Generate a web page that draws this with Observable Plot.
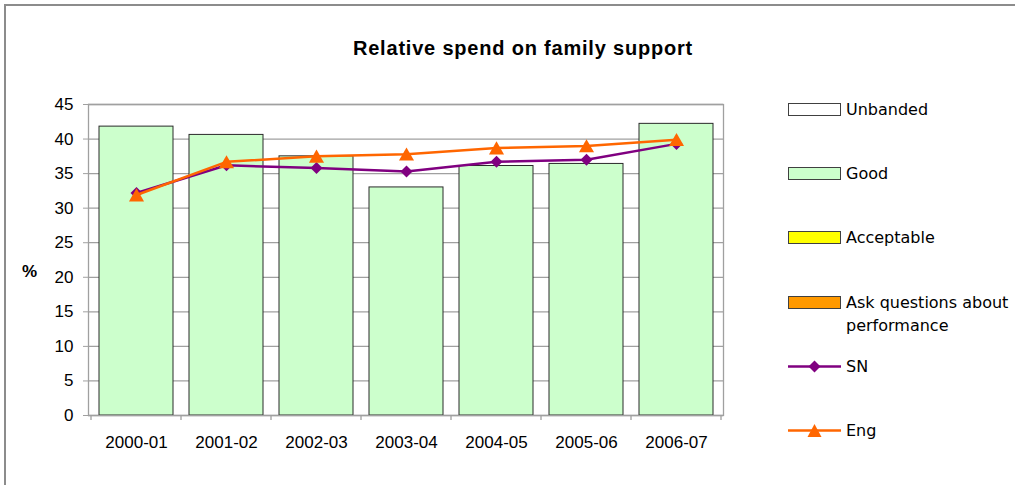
<!DOCTYPE html>
<html><head><meta charset="utf-8">
<script src="https://cdn.jsdelivr.net/npm/d3@7"></script>
<script src="https://cdn.jsdelivr.net/npm/@observablehq/plot@0.6"></script>
<style>
body{margin:0;background:#fff;}
#wrap{position:relative;width:1015px;height:485px;overflow:hidden;font-family:"Liberation Sans",Arial,sans-serif;background:#fff;}
#frame{position:absolute;left:4px;top:4px;width:1100px;height:600px;border:2px solid #8c8c8c;box-sizing:border-box;}
#chart{position:absolute;left:0;top:0;}
#title{position:absolute;left:223px;width:600px;top:36px;text-align:center;font-weight:bold;font-size:20px;letter-spacing:0.8px;line-height:24px;color:#000;}
#ylab{position:absolute;left:22px;top:262px;font-weight:bold;font-size:17px;line-height:20px;}
.leg{position:absolute;left:788px;font-family:"DejaVu Sans",Verdana,sans-serif;font-size:16px;line-height:23px;color:#000;}
.leg svg{position:absolute;left:0;}
.leg span{position:absolute;left:58px;white-space:nowrap;}
</style></head>
<body>
<div id="wrap">
  <div id="frame"></div>
  <div id="chart"></div>
  <div id="title"></div>
  <div id="ylab">%</div>
  <div id="legend"></div>
</div>
<script>
const years = ["2000-01","2001-02","2002-03","2003-04","2004-05","2005-06","2006-07"];
const goodValues = [41.8, 40.6, 37.5, 33.0, 36.1, 36.4, 42.2];
const snValues = [32.2, 36.2, 35.8, 35.3, 36.7, 37.0, 39.3];
const engValues = [31.9, 36.7, 37.5, 37.8, 38.7, 39.0, 39.9];
const yTicks = [0, 5, 10, 15, 20, 25, 30, 35, 40, 45];
const titleText = "Relative spend on family support";
const legendItems = [
  {label: "Unbanded", kind: "box", color: "#FFFFFF"},
  {label: "Good", kind: "box", color: "#CCFFCC"},
  {label: "Acceptable", kind: "box", color: "#FFFF00"},
  {label: "Ask questions about performance", kind: "box", color: "#FF9900"},
  {label: "SN", kind: "diamond", color: "#800080"},
  {label: "Eng", kind: "triangle", color: "#FF6600"}
];

const data = years.map((y, i) => ({year: y, good: goodValues[i], sn: snValues[i], eng: engValues[i]}));
const gray = "#a0a0a0";

const plot = Plot.plot({
  width: 1015, height: 485,
  marginLeft: 88, marginRight: 292, marginTop: 104, marginBottom: 70,
  style: {fontFamily: '"Liberation Sans", Arial, sans-serif', fontSize: "17px", color: "#000", background: "transparent", overflow: "visible"},
  x: {domain: years, paddingInner: 0.18, paddingOuter: 0.09, label: null},
  y: {domain: [0, 45], label: null},
  marks: [
    Plot.gridY(yTicks, {stroke: gray, strokeOpacity: 1, strokeWidth: 1.3}),
    Plot.barY(data, {x: "year", y: "good", fill: "#CCFFCC", stroke: "#2a2a2a", strokeWidth: 1}),
    Plot.frame({stroke: gray, strokeWidth: 1.3}),
    Plot.line(data, {x: "year", y: "sn", stroke: "#800080", strokeWidth: 2.5}),
    Plot.dot(data, {x: "year", y: "sn", symbol: "diamond2", r: 5.4, fill: "#800080", stroke: null}),
    Plot.line(data, {x: "year", y: "eng", stroke: "#FF6600", strokeWidth: 2.5}),
    Plot.dot(data, {x: "year", y: "eng", symbol: "triangle", r: 5.6, fill: "#FF6600", stroke: null, dy: 2}),
    Plot.axisY(yTicks, {tickSize: 5, tickPadding: 10, stroke: gray, fill: "#000", fontSize: 17}),
    Plot.axisX({tickSize: 0, tickPadding: 20, fill: "#000", fontSize: 17})
  ]
});
document.getElementById("chart").appendChild(plot);

// category boundary ticks from the library's x scale
const sx = plot.scale("x");
const sy = plot.scale("y");
const y0 = sy.apply(0);
const half = (sx.step - sx.bandwidth) / 2;
const bounds = years.map(c => sx.apply(c) - half);
bounds.push(sx.apply(years[years.length - 1]) + sx.bandwidth + half);
d3.select(plot).append("g").selectAll("line").data(bounds).join("line")
  .attr("x1", d => d).attr("x2", d => d).attr("y1", y0).attr("y2", y0 + 5)
  .attr("stroke", gray).attr("stroke-width", 1.3);

document.getElementById("title").textContent = titleText;

// legend
const legendTops = [98, 162, 226, 291, 355, 419];
const leg = document.getElementById("legend");
legendItems.forEach((it, i) => {
  const div = document.createElement("div");
  div.className = "leg";
  div.style.top = legendTops[i] + "px";
  let svg;
  if (it.kind === "box") {
    svg = `<svg width="54" height="23"><rect x="0.5" y="5.5" width="52" height="12" fill="${it.color}" stroke="#404040" stroke-width="1"/></svg>`;
  } else if (it.kind === "diamond") {
    svg = `<svg width="54" height="23"><line x1="0" x2="53" y1="11.5" y2="11.5" stroke="${it.color}" stroke-width="2.5"/><path d="M26.5,5.5L32.5,11.5L26.5,17.5L20.5,11.5Z" fill="${it.color}"/></svg>`;
  } else {
    svg = `<svg width="54" height="23"><line x1="0" x2="53" y1="11.5" y2="11.5" stroke="${it.color}" stroke-width="2.5"/><path d="M26.5,5L33.5,18L19.5,18Z" fill="${it.color}"/></svg>`;
  }
  const words = it.label === "Ask questions about performance" ? "Ask questions about<br>performance" : it.label;
  div.innerHTML = svg + `<span>${words}</span>`;
  leg.appendChild(div);
});
</script>
</body></html>
